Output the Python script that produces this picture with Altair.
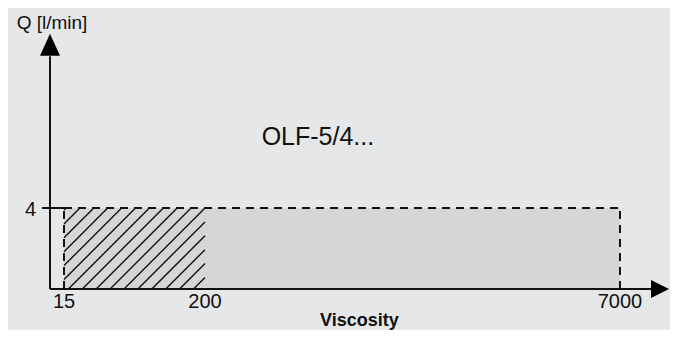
import altair as alt
import numpy as np
import pandas as pd

# ---------------- data ----------------
viscosity_ticks = [15, 200, 7000]
viscosity_labels = ["15", "200", "7000"]
flow_ticks = [4]
flow_labels = ["4"]
band_start = [15, 200]
band_end = [200, 7000]
band_hatched = [True, False]
q_min = 0
q_max = 4
model_label = ["OLF-5/4..."]
x_title = ["Viscosity"]
y_title = ["Q [l/min]"]

# schematic (non-proportional) axis anchors
x_axis_origin = 0
x_axis_tip = 7800
x_axis_line_end = 7510
y_axis_tip = 12.6
y_axis_line_end = 11.5
tick_start = -8.6
model_label_pos = [2050, 7.5]
x_title_pos = 2730

# ---------------- scales (piecewise schematic axis) ----------------
X_DOM = [0, 15, 200, 7000, 7800]
X_RNG = [42, 56, 197, 612, 661]
Y_DOM = [0, 4]
Y_RNG = [281, 200]
XS = alt.Scale(type="linear", domain=X_DOM, range=X_RNG, nice=False, zero=False)
YS = alt.Scale(type="linear", domain=Y_DOM, range=Y_RNG, nice=False, zero=False)

INK = "#111111"
FONT = "Liberation Sans"


def x_px(v):
    return float(np.interp(v, X_DOM, X_RNG))


def px_x(p):
    return float(np.interp(p, X_RNG, X_DOM))


def y_px(v):
    return Y_RNG[0] + (v - Y_DOM[0]) * (Y_RNG[1] - Y_RNG[0]) / (Y_DOM[1] - Y_DOM[0])


def px_y(p):
    return Y_DOM[0] + (p - Y_RNG[0]) * (Y_DOM[1] - Y_DOM[0]) / (Y_RNG[1] - Y_RNG[0])


def X(field):
    return alt.X(field, type="quantitative", scale=XS, axis=None)


def Y(field):
    return alt.Y(field, type="quantitative", scale=YS, axis=None)


# ---------------- band fill ----------------
bands = pd.DataFrame({"x": band_start, "x2": band_end, "hatched": band_hatched})
bands["y"] = q_min
bands["y2"] = q_max
fill = alt.Chart(bands).mark_rect(color="#d5d6d8").encode(
    x=X("x"), x2="x2", y=Y("y"), y2="y2"
)

# ---------------- hatch pattern (45° lines inside hatched band) ----------------
rows = []
for s, e, h in zip(band_start, band_end, band_hatched):
    if not h:
        continue
    hx0, hx1 = x_px(s), x_px(e)
    htop, hbot = y_px(q_max), y_px(q_min)
    spacing = 13.9
    S0 = hx1 + htop
    for k in range(-30, 40):
        S = S0 - spacing * k
        xa = max(hx0, S - hbot)
        xb = min(hx1, S - htop)
        if xb - xa > 0.8:
            rows.append({"x": px_x(xa), "y": px_y(S - xa), "x2": px_x(xb), "y2": px_y(S - xb)})
hatch = alt.Chart(pd.DataFrame(rows)).mark_rule(color=INK, strokeWidth=1.4).encode(
    x=X("x"), x2="x2", y=Y("y"), y2="y2"
)

# ---------------- dashed outline ----------------
x_lo, x_hi = min(band_start), max(band_end)
outline = pd.DataFrame({
    "x": [x_lo, x_lo, x_hi, x_lo],
    "x2": [x_hi, x_lo, x_hi, x_hi],
    "y": [q_max, q_min, q_min, q_min],
    "y2": [q_max, q_max, q_max, q_min],
})
dashed = alt.Chart(outline).mark_rule(color=INK, strokeWidth=2, strokeDash=[8, 6]).encode(
    x=X("x"), x2="x2", y=Y("y"), y2="y2"
)

# ---------------- axes with arrows ----------------
axes_df = pd.DataFrame({
    "x": [x_axis_origin, x_axis_origin, tick_start],
    "x2": [x_axis_line_end, x_axis_origin, x_lo],
    "y": [q_min, q_min, flow_ticks[0]],
    "y2": [q_min, y_axis_line_end, flow_ticks[0]],
})
axes = alt.Chart(axes_df).mark_rule(color=INK, strokeWidth=2).encode(
    x=X("x"), x2="x2", y=Y("y"), y2="y2"
)

arrow_up = alt.Chart(pd.DataFrame({"x": [x_axis_origin], "y": [y_axis_tip]})).mark_point(
    shape="M0,0L1,2.2L-1,2.2Z", filled=True, size=400, color="#000000", opacity=1, strokeWidth=0
).encode(x=X("x"), y=Y("y"))

arrow_right = alt.Chart(pd.DataFrame({"x": [x_axis_tip], "y": [q_min]})).mark_point(
    shape="M0,0L-2,-1L-2,1Z", filled=True, size=324, color="#000000", opacity=1, strokeWidth=0
).encode(x=X("x"), y=Y("y"))

# ---------------- texts ----------------
xt = alt.Chart(pd.DataFrame({"x": viscosity_ticks, "y": [q_min] * 3, "t": viscosity_labels})).mark_text(
    font=FONT, fontSize=20, color=INK, align="center", baseline="alphabetic", dy=19
).encode(x=X("x"), y=Y("y"), text="t:N")

yt = alt.Chart(pd.DataFrame({"x": [x_axis_origin], "y": flow_ticks, "t": flow_labels})).mark_text(
    font=FONT, fontSize=20, color=INK, align="right", baseline="alphabetic", dx=-14, dy=8
).encode(x=X("x"), y=Y("y"), text="t:N")

ytitle = alt.Chart(pd.DataFrame({"x": [x_axis_origin], "y": [y_axis_tip], "t": y_title})).mark_text(
    font=FONT, fontSize=19, color=INK, align="center", baseline="alphabetic", dx=2, dy=-5
).encode(x=X("x"), y=Y("y"), text="t:N")

xtitle = alt.Chart(pd.DataFrame({"x": [x_title_pos], "y": [q_min], "t": x_title})).mark_text(
    font=FONT, fontSize=18, fontWeight="bold", color=INK, align="center", baseline="alphabetic", dy=37
).encode(x=X("x"), y=Y("y"), text="t:N")

model = alt.Chart(pd.DataFrame({"x": [model_label_pos[0]], "y": [model_label_pos[1]], "t": model_label})).mark_text(
    font=FONT, fontSize=25, color=INK, align="center", baseline="middle"
).encode(x=X("x"), y=Y("y"), text="t:N")

chart = alt.layer(
    fill, hatch, dashed, axes, arrow_up, arrow_right, xt, yt, ytitle, xtitle, model
).properties(
    width=662, height=322, autosize=alt.AutoSizeParams(type="none"), padding=0
).configure(background="#e6e7e9").configure_view(stroke=None)

chart.save("out.html", embed_options={"renderer": "svg", "actions": False})
